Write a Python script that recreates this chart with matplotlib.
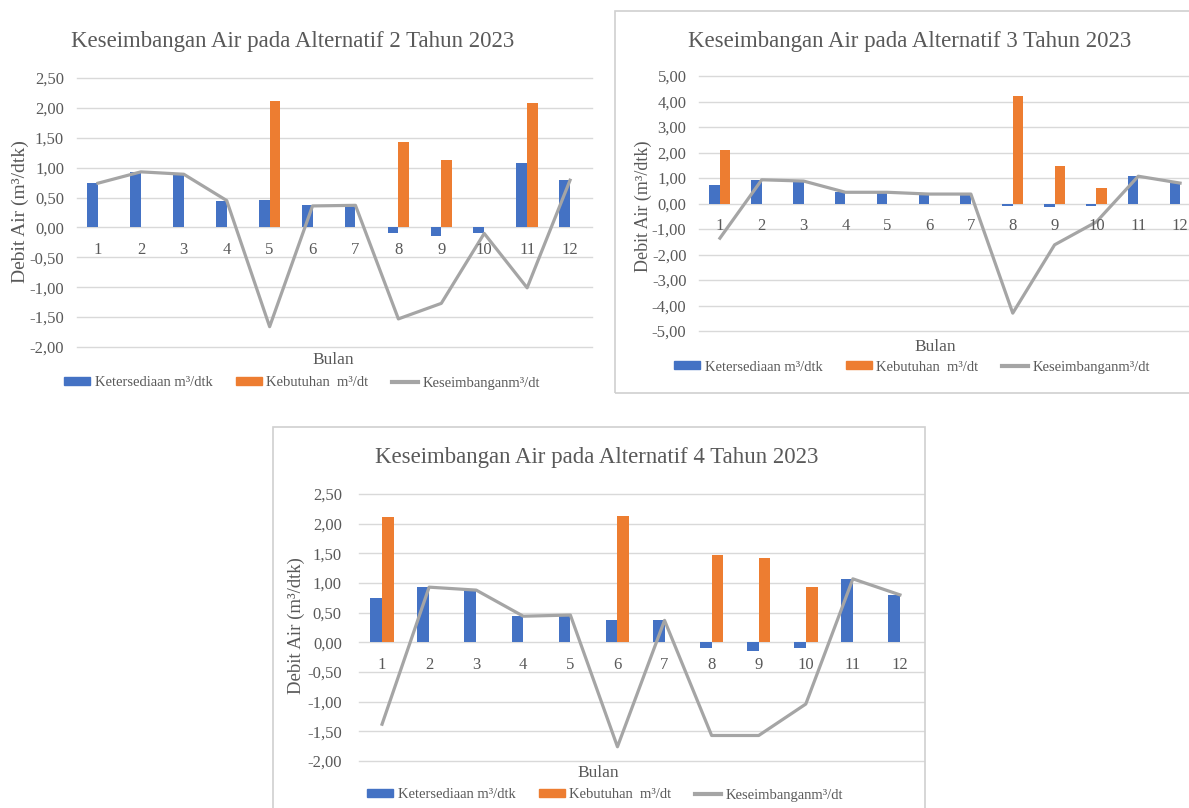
import matplotlib
matplotlib.use("Agg")
import matplotlib.pyplot as plt
from matplotlib.patches import Rectangle, Patch
from matplotlib.lines import Line2D
from matplotlib.ticker import FixedLocator, FuncFormatter
import matplotlib.transforms as mtransforms
import numpy as np

plt.rcParams["font.family"] = ["Liberation Serif", "DejaVu Serif"]

W_PX, H_PX = 1189, 808

months = ["1", "2", "3", "4", "5", "6", "7", "8", "9", "10", "11", "12"]

# ketersediaan (same in all three alternatives)
avail = [0.74, 0.93, 0.88, 0.44, 0.46, 0.37, 0.37, -0.10, -0.15, -0.10, 1.07, 0.80]

# alternatif 2
demand_a2 = [0, 0, 0, 0, 2.12, 0, 0, 1.43, 1.12, 0, 2.08, 0]
balance_a2 = [0.74, 0.93, 0.89, 0.45, -1.66, 0.36, 0.37, -1.53, -1.27, -0.10, -1.01, 0.79]

# alternatif 3
demand_a3 = [2.10, 0, 0, 0, 0, 0, 0, 4.20, 1.47, 0.60, 0, 0]
balance_a3 = [-1.36, 0.93, 0.88, 0.44, 0.44, 0.37, 0.37, -4.30, -1.62, -0.72, 1.07, 0.80]

# alternatif 4
demand_a4 = [2.12, 0, 0, 0, 0, 2.13, 0, 1.47, 1.42, 0.94, 0, 0]
balance_a4 = [-1.38, 0.93, 0.88, 0.44, 0.46, -1.76, 0.37, -1.57, -1.57, -1.04, 1.07, 0.80]

titles = ["Keseimbangan Air pada Alternatif 2 Tahun 2023",
          "Keseimbangan Air pada Alternatif 3 Tahun 2023",
          "Keseimbangan Air pada Alternatif 4 Tahun 2023"]
series_names = ["Ketersediaan m³/dtk", "Kebutuhan  m³/dt", "Keseimbanganm³/dt"]

BLUE, ORANGE, GREY = "#4472C4", "#ED7D31", "#A5A5A5"
TXT = "#595959"
GRID = "#D9D9D9"


def fx(x):
    return x / W_PX


def fy(y):
    return 1 - y / H_PX


def panel(fig, box, title, demand, balance, ylim, step, pos, tick_fs=12, ylab_fs=14):
    # box = (left, top, right, bottom) of the plot area in pixels
    l, t, r, b = box
    ax = fig.add_axes([fx(l), fy(b), fx(r) - fx(l), fy(t) - fy(b)])
    x = np.arange(len(months))
    w = 0.25
    ax.bar(x - w / 2, avail, w, color=BLUE, zorder=2)
    ax.bar(x + w / 2, demand, w, color=ORANGE, zorder=2)
    ax.plot(x, balance, color=GREY, lw=2.3, zorder=3)
    ax.set_xlim(-0.5, len(months) - 0.5)
    ax.set_ylim(*ylim)
    ticks = np.arange(ylim[0], ylim[1] + step / 2, step)
    ax.yaxis.set_major_locator(FixedLocator(ticks))
    ax.yaxis.set_major_formatter(FuncFormatter(lambda v, p: f"{v:.2f}".replace(".", ",")))
    ax.set_xticks([])
    ax.tick_params(axis="y", length=0, pad=pos["pad"], labelsize=tick_fs, labelcolor=TXT)
    ax.grid(axis="y", color=GRID, lw=1.0, zorder=0)
    for gl in ax.get_ygridlines():
        gl.set_clip_on(False)
    for sp in ax.spines.values():
        sp.set_visible(False)
    ax.patch.set_alpha(0)
    off = mtransforms.offset_copy(ax.transData, fig=fig, x=0, y=-23, units="dots")
    for i, m in enumerate(months):
        ax.text(i, 0, m, transform=off, ha="center", va="center", fontsize=tick_fs, color=TXT)

    fig.text(fx(pos["title"][0]), fy(pos["title"][1]), title, ha="center", va="center",
             fontsize=16.5, color=TXT)
    fig.text(fx(pos["ylab"][0]), fy(pos["ylab"][1]), "Debit Air (m³/dtk)", rotation=90,
             ha="center", va="center", fontsize=ylab_fs, color=TXT)
    fig.text(fx(pos["bulan"][0]), fy(pos["bulan"][1]), "Bulan", ha="center", va="center",
             fontsize=12.5, color=TXT)
    handles = [Patch(color=BLUE), Patch(color=ORANGE), Line2D([], [], color=GREY, lw=3)]
    fig.legend(handles, series_names, loc="center", ncol=3, frameon=False,
               bbox_to_anchor=(fx(pos["leg"][0]), fy(pos["leg"][1])), fontsize=10.5,
               labelcolor=TXT, handlelength=1.8, handleheight=0.45,
               handletextpad=0.3, columnspacing=1.6)
    return ax


fig = plt.figure(figsize=(W_PX / 100, H_PX / 100), dpi=100)

# frames around panels 2 and 3 (panel 2 runs off the right edge)
fig.patches.append(Rectangle((fx(615), fy(393)), fx(1200) - fx(615), fy(11) - fy(393),
                             transform=fig.transFigure, fill=False, ec="#D0D0D0", lw=1.2))
fig.patches.append(Rectangle((fx(273), fy(812)), fx(925) - fx(273), fy(427) - fy(812),
                             transform=fig.transFigure, fill=False, ec="#D0D0D0", lw=1.2))

panel(fig, (76.5, 78, 591.5, 347), titles[0], demand_a2, balance_a2, (-2.0, 2.5), 0.5,
      dict(title=(293, 42), ylab=(20, 212), bulan=(333, 360), leg=(302, 383), pad=9))
panel(fig, (699, 76, 1201, 331), titles[1], demand_a3, balance_a3, (-5.0, 5.0), 1.0,
      dict(title=(910, 42), ylab=(643, 206), bulan=(935, 347), leg=(912, 367), pad=9),
      ylab_fs=13)
panel(fig, (358.5, 494, 923.5, 761), titles[2], demand_a4, balance_a4, (-2.0, 2.5), 0.5,
      dict(title=(597, 458), ylab=(296, 626), bulan=(598, 773), leg=(605, 795), pad=12),
      ylab_fs=13.5)

fig.savefig("out.png", dpi=100, facecolor="white")
